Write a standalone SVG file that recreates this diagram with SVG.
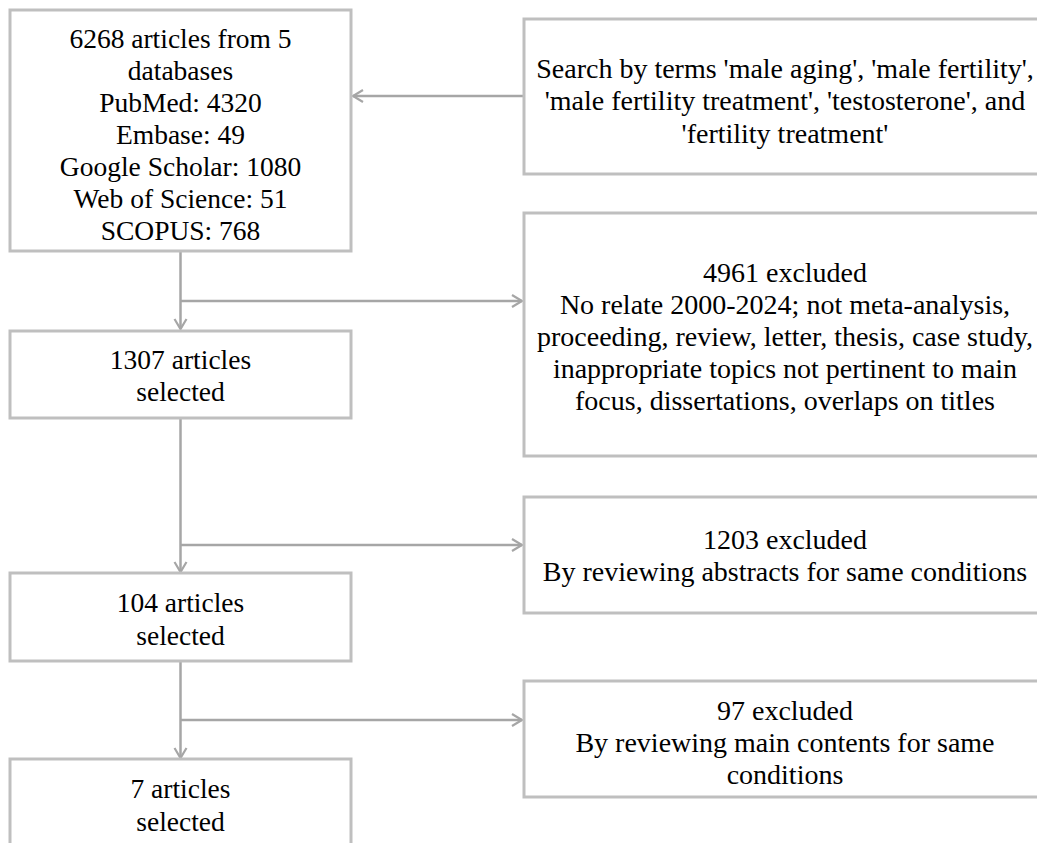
<svg xmlns="http://www.w3.org/2000/svg" width="1037" height="843" viewBox="0 0 1037 843">
<style>
.box{fill:#ffffff;stroke:#bfbfbf;stroke-width:3}
.t{font-family:'Liberation Serif','DejaVu Serif',serif;font-size:27.5px;fill:#000;text-anchor:middle}
.r{font-size:28px}
.c{fill:none;stroke:#a6a6a6;stroke-width:2.5}
</style>
<defs>
<marker id="ah" markerUnits="userSpaceOnUse" markerWidth="14" markerHeight="16" refX="11" refY="7" orient="auto" viewBox="0 0 14 14">
<path d="M1,1 L11,7 L1,13" fill="none" stroke="#a6a6a6" stroke-width="2.2"/>
</marker>
</defs>
<rect width="1037" height="843" fill="#ffffff"/>
<g id="connectors">
<path class="c" d="M524,96 L353,96" marker-end="url(#ah)"/>
<path class="c" d="M180.5,251 L180.5,329" marker-end="url(#ah)"/>
<path class="c" d="M180.5,301 L522,301" marker-end="url(#ah)"/>
<path class="c" d="M180.5,418 L180.5,572" marker-end="url(#ah)"/>
<path class="c" d="M180.5,545 L522,545" marker-end="url(#ah)"/>
<path class="c" d="M180.5,661 L180.5,758" marker-end="url(#ah)"/>
<path class="c" d="M180.5,720 L522,720" marker-end="url(#ah)"/>
</g>
<g id="n1">
<rect class="box" x="10" y="10" width="341" height="241"/>
<text class="t" x="180.5" y="48">6268 articles from 5</text>
<text class="t" x="180.5" y="80">databases</text>
<text class="t" x="180.5" y="112">PubMed: 4320</text>
<text class="t" x="180.5" y="144">Embase: 49</text>
<text class="t" x="180.5" y="176">Google Scholar: 1080</text>
<text class="t" x="180.5" y="208">Web of Science: 51</text>
<text class="t" x="180.5" y="240">SCOPUS: 768</text>
</g>
<g id="search">
<rect class="box" x="524" y="19" width="522" height="155"/>
<text class="t r" x="785" y="78">Search by terms 'male aging', 'male fertility',</text>
<text class="t r" x="785" y="110">'male fertility treatment', 'testosterone', and</text>
<text class="t r" x="785" y="142.5">'fertility treatment'</text>
</g>
<g id="n2">
<rect class="box" x="10" y="331" width="341" height="87"/>
<text class="t" x="180.5" y="368.5">1307 articles</text>
<text class="t" x="180.5" y="400.5">selected</text>
</g>
<g id="ex1">
<rect class="box" x="524" y="213" width="522" height="243"/>
<text class="t r" x="785" y="281.5">4961 excluded</text>
<text class="t r" x="785" y="314">No relate 2000-2024; not meta-analysis,</text>
<text class="t r" x="785" y="346">proceeding, review, letter, thesis, case study,</text>
<text class="t r" x="785" y="378">inappropriate topics not pertinent to main</text>
<text class="t r" x="785" y="410">focus, dissertations, overlaps on titles</text>
</g>
<g id="ex2">
<rect class="box" x="524" y="497" width="522" height="116"/>
<text class="t r" x="785" y="549">1203 excluded</text>
<text class="t r" x="785" y="581">By reviewing abstracts for same conditions</text>
</g>
<g id="n3">
<rect class="box" x="10" y="573" width="341" height="88"/>
<text class="t" x="180.5" y="612">104 articles</text>
<text class="t" x="180.5" y="645">selected</text>
</g>
<g id="ex3">
<rect class="box" x="524" y="681" width="522" height="116"/>
<text class="t r" x="785" y="719.5">97 excluded</text>
<text class="t r" x="785" y="752">By reviewing main contents for same</text>
<text class="t r" x="785" y="784">conditions</text>
</g>
<g id="n4">
<rect class="box" x="10" y="759" width="341" height="88"/>
<text class="t" x="180.5" y="798">7 articles</text>
<text class="t" x="180.5" y="831">selected</text>
</g>
</svg>
